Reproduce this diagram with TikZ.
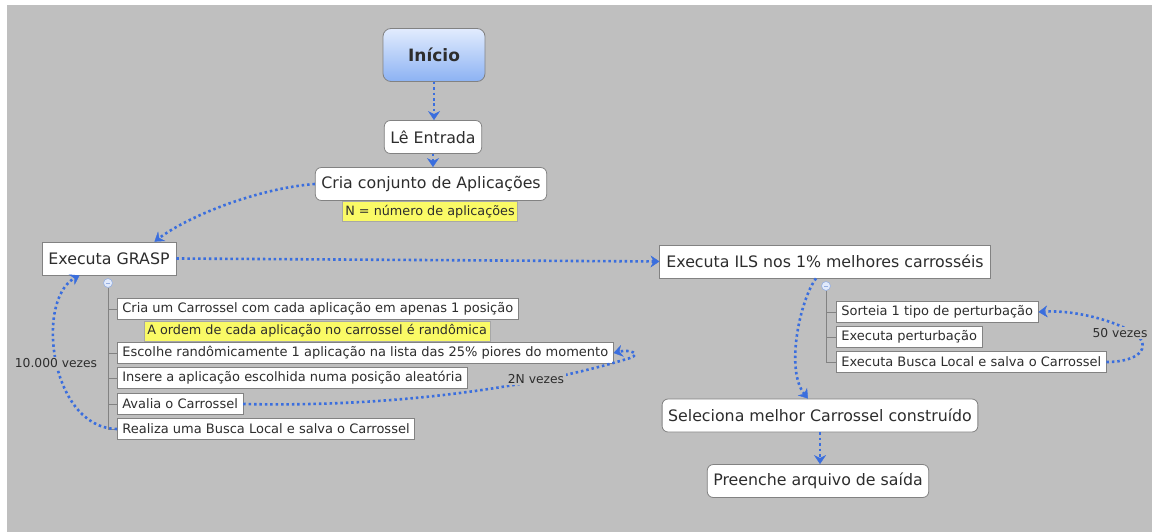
\documentclass[tikz,border=0pt]{standalone}
\usepackage{fontspec}
\setmainfont{DejaVu Sans}
\usetikzlibrary{arrows.meta,calc}
\definecolor{bg}{RGB}{191,191,191}
\definecolor{conn}{RGB}{58,110,222}
\definecolor{txt}{RGB}{45,45,45}
\definecolor{bord}{RGB}{130,130,130}
\definecolor{note}{RGB}{250,250,102}
\definecolor{iniTop}{RGB}{226,236,254}
\definecolor{iniBot}{RGB}{140,178,243}
\definecolor{togFill}{RGB}{225,234,252}
\definecolor{togDraw}{RGB}{150,175,225}
\begin{document}
\begin{tikzpicture}[x=1pt,y=-1pt,
  every node/.style={text=txt},
  mainbox/.style={draw=bord, fill=white, line width=0.8pt, rounded corners=6pt, minimum height=33pt, inner xsep=6pt, font=\fontsize{15.8}{18}\selectfont},
  sqbox/.style={draw=bord, fill=white, line width=0.8pt, minimum height=33pt, inner xsep=6.5pt, font=\fontsize{15.8}{18}\selectfont},
  item/.style={draw=bord, fill=white, line width=0.7pt, minimum height=21pt, inner xsep=5pt, anchor=west, font=\fontsize{13}{15}\selectfont},
  notebox/.style={draw=bord!70, fill=note, line width=0.5pt, minimum height=19pt, inner xsep=3pt, font=\fontsize{12.8}{15}\selectfont},
  link/.style={draw=conn, line width=2.6pt, dash pattern=on 2.5pt off 2.9pt, -{Stealth[length=9pt,width=12pt,inset=3pt,line width=0.4pt]}},
  lbl/.style={fill=bg, inner sep=1.5pt, font=\fontsize{12.3}{15}\selectfont},
  tree/.style={draw=bord, line width=0.8pt},
  toggle/.style={circle, draw=togDraw, fill=togFill, line width=0.6pt, minimum size=9pt, inner sep=0pt}
]
\useasboundingbox (0,0) rectangle (1152,532);
\fill[white] (0,0) rectangle (1152,532);
\fill[bg] (7,5) rectangle (1152,532);

% main flow
\node[draw=bord, line width=0.8pt, rounded corners=8pt, top color=iniTop, bottom color=iniBot,
      minimum width=102pt, minimum height=53pt, font=\bfseries\fontsize{17}{20}\selectfont] (inicio) at (434,55) {Início};
\node[mainbox] (le) at (433,137) {Lê Entrada};
\node[mainbox] (cria) at (431,184) {Cria conjunto de Aplicações};
\node[notebox] (noteN) at (430,211.5) {N = número de aplicações};

\node[sqbox] (grasp) at (109,258.5) {Executa GRASP};
\node[sqbox] (ils) at (825,261.5) {Executa ILS nos 1\% melhores carrosséis};
\node[mainbox] (sel) at (820,415.5) {Seleciona melhor Carrossel construído};
\node[mainbox] (pre) at (818,481) {Preenche arquivo de saída};

% GRASP sub-items
\node[toggle] (tog1) at (108,283) {\color{togDraw}\rule{4pt}{0.8pt}};
\node[item] (c1) at (117,309) {Cria um Carrossel com cada aplicação em apenas 1 posição};
\node[notebox, anchor=west] (noteA) at (144,331) {A ordem de cada aplicação no carrossel é randômica};
\node[item] (esc) at (117,353) {Escolhe randômicamente 1 aplicação na lista das 25\% piores do momento};
\node[item] (ins) at (117,378) {Insere a aplicação escolhida numa posição aleatória};
\node[item] (ava) at (117,404) {Avalia o Carrossel};
\node[item] (rea) at (117,429) {Realiza uma Busca Local e salva o Carrossel};

\draw[tree] (tog1.south) -- (tog1.south |- rea.west);
\foreach \n in {c1,esc,ins,ava,rea}{\draw[tree] (tog1.south |- \n.west) -- (\n.west);}

% ILS sub-items
\node[toggle] (tog2) at (826,286) {\color{togDraw}\rule{4pt}{0.8pt}};
\node[item] (sor) at (836,312) {Sorteia 1 tipo de perturbação};
\node[item] (per) at (836,337) {Executa perturbação};
\node[item] (bus) at (836,362) {Executa Busca Local e salva o Carrossel};

\draw[tree] (tog2.south) -- (tog2.south |- bus.west);
\foreach \n in {sor,per,bus}{\draw[tree] (tog2.south |- \n.west) -- (\n.west);}

% connectors
\draw[link] (inicio.south) -- (inicio.south |- le.north);
\draw[link] (le.south) -- (le.south |- cria.north);
\draw[link] (cria.west) .. controls (260,188) and (190,215) .. ($(grasp.north east)+(-22,0)$);
\draw[link] (grasp.east) -- (ils.west);
\draw[link] ($(ils.south)+(-9,0)$) .. controls (800,300) and (785,370) .. ($(sel.north)+(-12,0)$);
\draw[link] (sel.south) -- (sel.south |- pre.north);

% loops
\draw[link] (rea.west) .. controls (50,428) and (35,300) .. ($(grasp.south west)+(38,0)$);
\node[lbl] (l10) at (56,363) {10.000 vezes};

\draw[link] (ava.east) .. controls (420,408) and (560,380) .. (630,358) .. controls (642,354) and (630,349) .. (esc.east);
\node[lbl] (l2n) at (536,379) {2N vezes};

\draw[link] (bus.east) .. controls (1138,362) and (1152,348) .. (1136,334) .. controls (1110,318) and (1070,310) .. (sor.east);
\node[lbl] (l50) at (1120,333) {50 vezes};
\end{tikzpicture}
\end{document}
